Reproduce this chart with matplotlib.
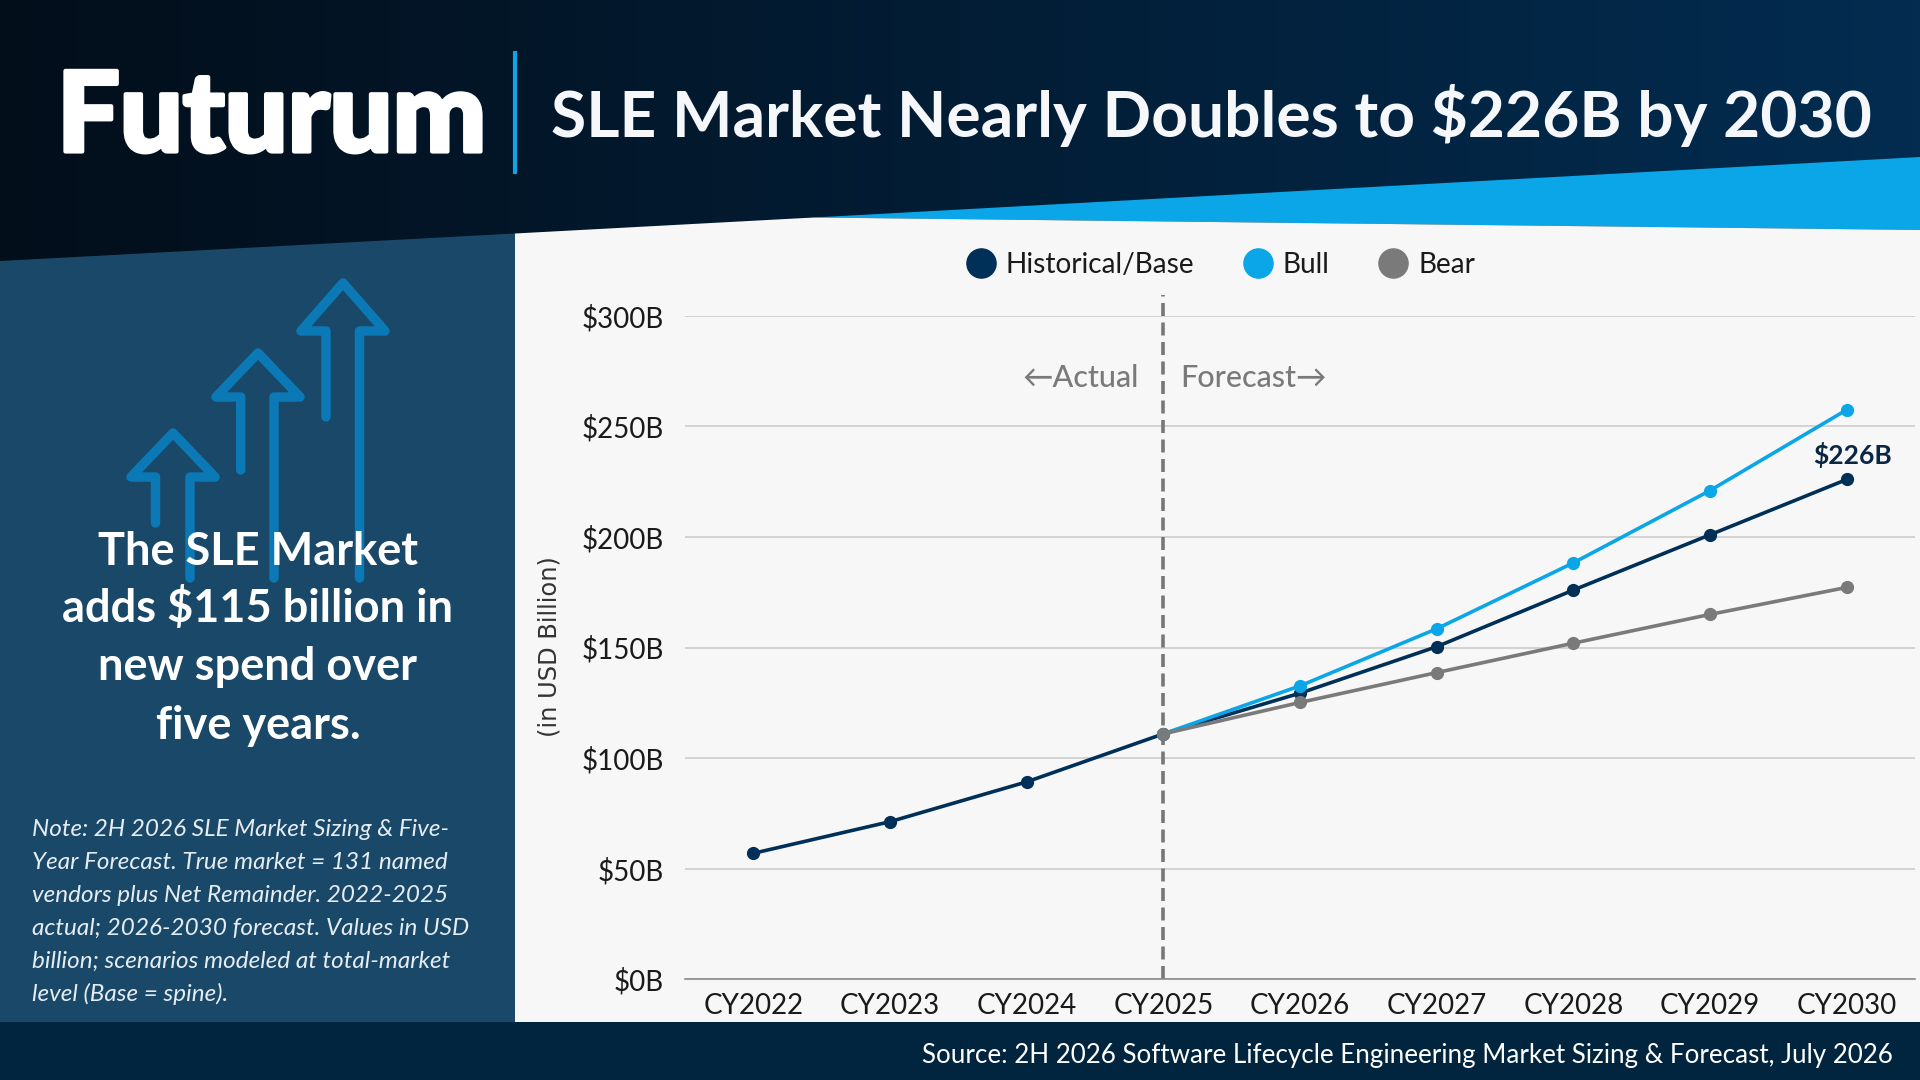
import numpy as np
import matplotlib
matplotlib.use('Agg')
import matplotlib.pyplot as plt
import matplotlib.patheffects as pe
from matplotlib.lines import Line2D
from matplotlib.patches import Polygon

plt.rcParams['font.family'] = ['Lato', 'DejaVu Sans']

years = ['CY2022', 'CY2023', 'CY2024', 'CY2025', 'CY2026', 'CY2027', 'CY2028', 'CY2029', 'CY2030']
base_values = [57, 71.3, 89.3, 111, 129.4, 150.4, 176, 201, 226]
bull_values = [111, 132.7, 158.5, 188.3, 221, 257.5]
bear_values = [111, 125.2, 138.7, 152, 165, 177.2]
y_ticks = [0, 50, 100, 150, 200, 250, 300]
y_labels = ['$0B', '$50B', '$100B', '$150B', '$200B', '$250B', '$300B']

note_lines = [
    'Note: 2H 2026 SLE Market Sizing & Five-',
    'Year Forecast. True market = 131 named',
    'vendors plus Net Remainder. 2022-2025',
    'actual; 2026-2030 forecast. Values in USD',
    'billion; scenarios modeled at total-market',
    'level (Base = spine).',
]
heading_lines = ['The SLE Market', 'adds $115 billion in', 'new spend over', 'five years.']

navy = '#003057'
sky = '#0aa6e8'
grey = '#7a7a7a'

fig = plt.figure(figsize=(19.2, 10.8), dpi=100)

# background layer, drawn in pixel coordinates
bg = fig.add_axes([0, 0, 1, 1])
bg.set_xlim(0, 1920)
bg.set_ylim(1080, 0)
bg.axis('off')

grad = np.zeros((2, 256, 3))
for i, (a, b) in enumerate(zip((2, 14, 26), (3, 44, 80))):
    grad[:, :, i] = np.linspace(a, b, 256) / 255
bg.imshow(grad, extent=(0, 1920, 1080, 0), aspect='auto', zorder=0)

bg.add_patch(Polygon([(814, 217.5), (1920, 157), (1920, 230)], color=sky, lw=0, zorder=1))
bg.add_patch(Polygon([(515, 233.5), (814, 217.5), (1920, 230), (1920, 1022), (515, 1022)],
                     color='#f7f7f7', lw=0, zorder=2))
bg.add_patch(Polygon([(0, 261), (515, 233.5), (515, 1022), (0, 1022)], color='#1a4868', lw=0, zorder=2))
bg.add_patch(Polygon([(0, 1022), (1920, 1022), (1920, 1080), (0, 1080)], color='#01253e', lw=0, zorder=3))
bg.plot([515, 515], [51, 174], color=sky, lw=3, zorder=3, solid_capstyle='butt')

# sidebar arrows
for cx, apex, wing, stem_l, stem_r, left_end in [
    (343, 283, 331, 326, 359.5, 417),
    (258, 353, 397, 240.7, 274, 470),
    (173, 433, 477, 155.5, 190, 523),
]:
    xs = [stem_l, stem_l, cx - 42, cx, cx + 42, stem_r, stem_r]
    ys = [left_end, wing, wing, apex, wing, wing, 578]
    bg.plot(xs, ys, color='#0b79b5', lw=6.8, solid_joinstyle='round', solid_capstyle='round', zorder=4)

bg.text(57, 151.5, 'Futurum', color='white', fontsize=80, fontweight='black', va='baseline', zorder=5,
        path_effects=[pe.withStroke(linewidth=3, foreground='white')])
bg.text(551, 137, 'SLE Market Nearly Doubles to $226B by 2030', color='#f5f7fa', fontsize=46.2,
        fontweight='bold', va='baseline', zorder=5)

for line, y in zip(heading_lines, [565, 622, 680.5, 738.7]):
    bg.text(258, y, line, color='white', fontsize=32.5, fontweight='bold', ha='center', va='baseline', zorder=5)

for i, line in enumerate(note_lines):
    bg.text(32, 836 + i * 33, line, color='#e6edf2', fontsize=17.5, style='italic',
            va='baseline', zorder=5)

bg.text(1893, 1055, 'Source: 2H 2026 Software Lifecycle Engineering Market Sizing & Forecast, July 2026',
        color='white', fontsize=18.7, ha='right', va='center', zorder=5)

# chart
ax = fig.add_axes([685 / 1920, (1080 - 979.4) / 1080, 1230 / 1920, 663.6 / 1080])
ax.patch.set_alpha(0)
x = np.arange(len(years))
ax.set_xlim(-0.5, 8.5)
ax.set_ylim(0, 300)
ax.grid(axis='y', color='#d2d2d2', lw=1.4)
ax.set_axisbelow(True)
for side in ['top', 'left', 'right']:
    ax.spines[side].set_visible(False)
ax.spines['bottom'].set_color('#8a8a8a')
ax.spines['bottom'].set_linewidth(1.2)
ax.set_xticks(x, years)
ax.set_yticks(y_ticks, y_labels)
ax.tick_params(axis='both', length=0, labelsize=20, labelcolor='#1a1a1a')
ax.tick_params(axis='x', pad=9.5)
ax.tick_params(axis='y', pad=15)

ax.plot(x, base_values, color=navy, lw=2.6, marker='o', ms=8.5, zorder=3)
ax.plot(x[3:], bull_values, color=sky, lw=2.6, marker='o', ms=8.5, zorder=4)
ax.plot(x[3:], bear_values, color=grey, lw=2.6, marker='o', ms=8.5, zorder=5)

ax.plot([3, 3], [0, 1.031], transform=ax.get_xaxis_transform(), color='#777777', lw=2.6,
        dashes=(3.6, 1.8), zorder=2, clip_on=False)

ax.annotate('$226B', (8, base_values[8]), xytext=(6, 11), textcoords='offset pixels', ha='center', va='bottom',
            color='#0b2545', fontsize=19, fontweight='bold')

arrow_family = ['Lato', 'Inter', 'DejaVu Sans']
bg.text(1139, 378, '←Actual', color=grey, fontsize=22, fontweight='medium', ha='right', va='center',
        family=arrow_family, zorder=5)
bg.text(1180, 378, 'Forecast→', color=grey, fontsize=22, fontweight='medium', ha='left', va='center',
        family=arrow_family, zorder=5)

bg.text(550, 647, '(in USD Billion)', color='#333333', fontsize=17.4, rotation=90, ha='center', va='center',
        family='DejaVu Sans', zorder=5)

handles = [
    Line2D([], [], ls='none', marker='o', ms=21, color=navy, label='Historical/Base'),
    Line2D([], [], ls='none', marker='o', ms=21, color=sky, label='Bull'),
    Line2D([], [], ls='none', marker='o', ms=21, color=grey, label='Bear'),
]
fig.legend(handles=handles, loc='center', bbox_to_anchor=(1218 / 1920, (1080 - 265) / 1080), ncol=3,
           frameon=False, handlelength=1.4, handletextpad=0.2, columnspacing=1.55, labelcolor='#1a1a1a',
           prop={'size': 20.2})

fig.savefig('out.png', dpi=100)
